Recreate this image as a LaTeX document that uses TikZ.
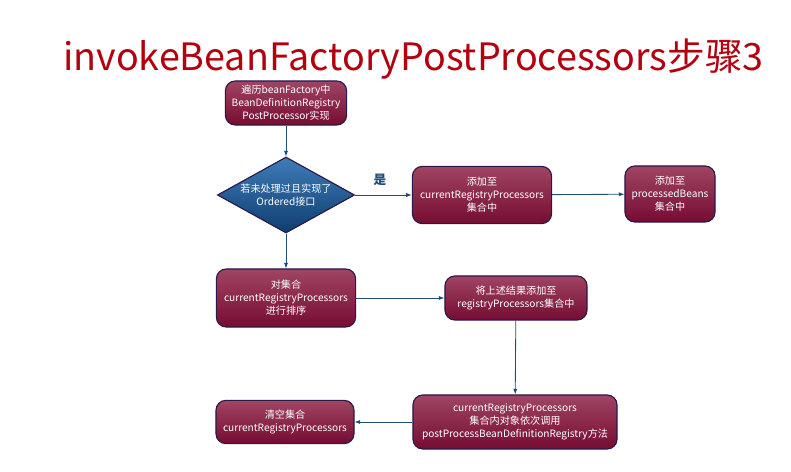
\documentclass[tikz,border=0pt]{standalone}
\usepackage{fontspec}
\setmainfont{Noto Sans CJK SC}
\usepackage{xcolor}
\usepackage{tikz}
\usetikzlibrary{arrows.meta, positioning, calc, shapes.geometric}

\definecolor{boxtop}{HTML}{A04563}
\definecolor{boxbot}{HTML}{760C32}
\definecolor{boxline}{HTML}{2B1848}
\definecolor{dtop}{HTML}{3F7CB8}
\definecolor{dbot}{HTML}{0E3E70}
\definecolor{lineblue}{HTML}{1F4E79}
\definecolor{titlered}{HTML}{B2000F}

\begin{document}
\begin{tikzpicture}[
x=0.025cm, y=-0.025cm,
every node/.style={font=\fontsize{7.2}{9.2}\selectfont},
box/.style={draw=boxline, line width=0.8pt, rectangle, rounded corners=7pt, top color=boxtop, bottom color=boxbot, text=white, align=center, inner sep=1pt},
decision/.style={draw=boxline, line width=0.8pt, diamond, shape aspect=1.8, top color=dtop, bottom color=dbot, text=white, align=center, inner sep=0pt},
arr/.style={draw=lineblue, line width=0.6pt, -{Latex[length=4pt,width=3pt]}}
]
\useasboundingbox (0,0) rectangle (791,472);

\node[text=titlered, font=\fontsize{26.8}{29}\selectfont, anchor=base west, inner sep=0pt] (title) at (63,71)
{invokeBeanFactoryPostProcessors步骤3};

\node[box, minimum width=3.03cm, minimum height=1.1cm] (scan) at (286,103)
{遍历beanFactory中\\BeanDefinitionRegistry\\PostProcessor实现};

\node[decision, minimum width=3.43cm, minimum height=1.9cm] (check) at (286,195)
{若未处理过且实现了\\Ordered接口};

\node[box, minimum width=3.48cm, minimum height=1.43cm] (addcurrent) at (482,195)
{添加至\\currentRegistryProcessors\\集合中};

\node[box, minimum width=2.25cm, minimum height=1.4cm] (addprocessed) at (670,194)
{添加至\\processedBeans\\集合中};

\node[box, minimum width=3.48cm, minimum height=1.45cm] (sort) at (286,298)
{对集合\\currentRegistryProcessors\\进行排序};

\node[box, minimum width=3.55cm, minimum height=1.1cm] (addregistry) at (516,298)
{将上述结果添加至\\registryProcessors集合中};

\node[box, minimum width=5.1cm, minimum height=1.35cm] (invoke) at (515,422)
{currentRegistryProcessors\\集合内对象依次调用\\postProcessBeanDefinitionRegistry方法};

\node[box, minimum width=3.45cm, minimum height=1.08cm] (clear) at (285,422)
{清空集合\\currentRegistryProcessors};

\node[text=lineblue, font=\fontsize{9}{10}\selectfont\bfseries] (yes) at (380,180) {是};

\draw[arr] (scan) -- (check);
\draw[arr] (check) -- (addcurrent);
\draw[arr] (addcurrent) -- (addprocessed);
\draw[arr] (check) -- (sort);
\draw[arr] (sort) -- (addregistry);
\draw[arr] (addregistry) -- (invoke);
\draw[arr] (invoke) -- (clear);

\end{tikzpicture}
\end{document}
